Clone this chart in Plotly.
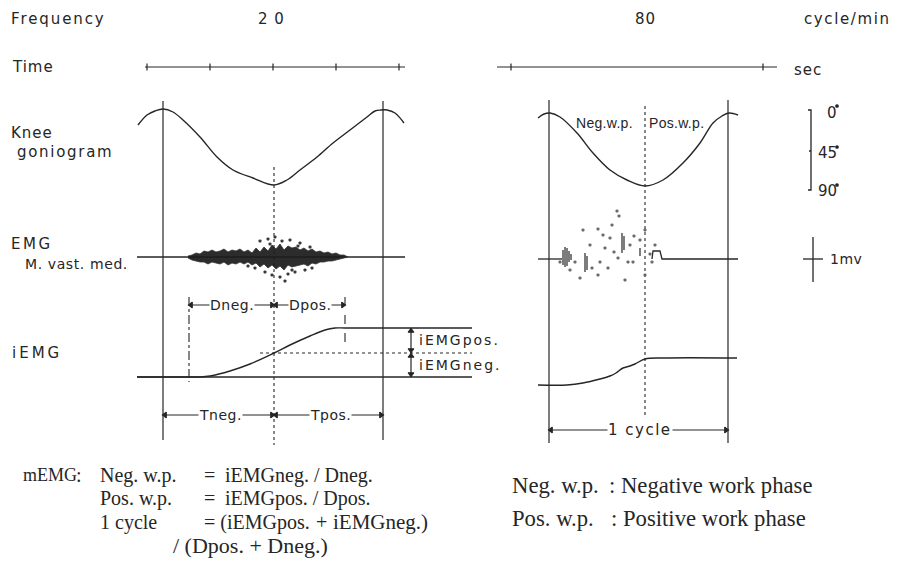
import plotly.graph_objects as go

# ---------------- data (diagram units = reference pixels) ----------------
FREQ_LABELS = ["2 0", "80"]
FREQ_X = [271, 645]

TIME20_RANGE = [145, 405]
TIME20_TICKS = [147, 210, 273, 336, 399]
TIME80_RANGE = [497, 777]
TIME80_TICKS = [511, 763]
TIME_Y = 67

CYCLE20 = [163, 383]
CYCLE80 = [549, 728]
MID20 = 274
MID80 = 645

GONIO20_X = [138, 147, 155, 163, 173, 183, 200, 217, 233, 253, 274, 287, 300, 317, 333, 350, 367, 375, 381, 387, 395, 404]
GONIO20_Y = [125, 115, 111, 109, 112, 120, 137, 157, 170, 178, 185, 180, 170, 157, 143, 130, 117, 111, 110, 110, 113, 123]
GONIO80_X = [538, 544, 550, 560, 577, 593, 610, 627, 645, 663, 683, 700, 713, 722, 729, 738]
GONIO80_Y = [118, 114, 113, 117, 133, 153, 170, 180, 186, 180, 163, 143, 123, 116, 113, 115]

EMG20_BASE = 257
EMG20_RANGE = [137, 405]
EMG20_X = [188, 192, 196, 200, 204, 208, 212, 216, 220, 224, 228, 232, 236, 240, 244, 248, 252, 256, 260, 264, 268,
           272, 276, 280, 284, 288, 292, 296, 300, 304, 308, 312, 316, 320, 324, 328, 332, 336, 340, 344, 348]
EMG20_UP = [1, 2, 4, 3, 6, 5, 7, 5, 6, 8, 5, 7, 6, 8, 5, 7, 4, 9, 5, 10, 6,
            12, 8, 13, 7, 11, 9, 10, 7, 9, 6, 8, 5, 6, 4, 5, 3, 4, 2, 2, 0]
EMG20_DOWN = [1, 3, 4, 5, 5, 7, 5, 6, 7, 5, 8, 6, 7, 5, 7, 5, 8, 6, 10, 7, 11,
              8, 12, 9, 13, 8, 10, 9, 8, 7, 9, 6, 7, 5, 5, 4, 4, 3, 2, 1, 0]
EMG20_DOTS_X = [260, 268, 275, 282, 290, 300, 265, 272, 280, 288, 295, 305, 312, 255, 248, 285, 292, 270, 298, 310]
EMG20_DOTS_Y = [241, 239, 237, 241, 240, 243, 272, 275, 277, 274, 272, 270, 268, 268, 266, 281, 270, 244, 246, 247]

EMG80_BASE = 259
EMG80_SPIKES_X = [563, 565, 567, 569, 571, 585, 587, 622, 624, 640]
EMG80_SPIKES_TOP = [250, 247, 248, 251, 254, 253, 256, 233, 236, 248]
EMG80_SPIKES_BOT = [265, 267, 266, 262, 260, 272, 270, 253, 250, 256]
EMG80_DOTS_X = [583, 598, 617, 619, 610, 634, 640, 600, 605, 614, 628, 633, 650, 652, 645, 625, 598, 580, 570, 590, 603, 645, 612, 655, 575, 592, 630, 608, 618, 560]
EMG80_DOTS_Y = [230, 229, 211, 216, 238, 236, 240, 262, 248, 252, 262, 262, 254, 262, 275, 280, 275, 278, 270, 245, 235, 230, 225, 245, 262, 268, 245, 268, 258, 262]

IEMG20_X = [137, 189, 200, 210, 230, 250, 274, 290, 310, 325, 335, 345, 472]
IEMG20_Y = [377, 377, 377, 376, 371, 364, 353, 345, 336, 330, 328, 328, 328]
IEMG20_BASE_END = 472
IEMG80_X = [538, 567, 583, 600, 610, 616, 623, 630, 635, 645, 663, 737]
IEMG80_Y = [385, 385, 383, 379, 376, 373, 368, 366, 364, 359, 358, 358]

D_X = [189, 274, 345]
D_Y = 305
T_Y = 415
CYCLE_ARROW_Y = 430
IEMG_SPLIT_Y = 353

ANGLE_LABELS = ["0", "45", "90"]
ANGLE_Y = [110, 150, 190]
ANGLE_BAR_X = 811
MV_BAR = [813, 237, 282, 259]

INK = "#262626"
SANS = "DejaVu Sans"
SERIF = "Liberation Serif"

fig = go.Figure()


def seg(xs, ys, dash="solid", width=1.3, color=INK, shape="linear"):
    fig.add_trace(go.Scatter(x=xs, y=ys, mode="lines",
                             line=dict(color=color, width=width, dash=dash, shape=shape),
                             hoverinfo="skip", showlegend=False))


def marks(xs, ys, symbol, size=6, color=INK):
    fig.add_trace(go.Scatter(x=xs, y=ys, mode="markers",
                             marker=dict(symbol=symbol, size=size, color=color,
                                         line=dict(color=color, width=1.2)),
                             hoverinfo="skip", showlegend=False))


def txt(x, y, s, size=15, font=SANS, anchor="left", spacing=None, bg=None):
    if spacing:
        s = f'<span style="letter-spacing:{spacing}px">{s}</span>'
    fig.add_annotation(x=x, y=y, xref="x", yref="y", text=s, showarrow=False,
                       xanchor=anchor, yanchor="middle",
                       font=dict(family=font, size=size, color=INK),
                       bgcolor=bg, borderpad=0)


# ---------------- time axes ----------------
seg(TIME20_RANGE, [TIME_Y, TIME_Y], width=1.1)
marks(TIME20_TICKS, [TIME_Y] * len(TIME20_TICKS), "line-ns", size=5)
seg(TIME80_RANGE, [TIME_Y, TIME_Y], width=1.1)
marks(TIME80_TICKS, [TIME_Y] * len(TIME80_TICKS), "line-ns", size=5)

# ---------------- cycle boundaries ----------------
for cx in CYCLE20:
    seg([cx, cx], [101, 440], width=1.2)
for cx in CYCLE80:
    seg([cx, cx], [100, 443], width=1.2)
seg([MID20, MID20], [167, 445], dash="dot", width=1.1)
seg([MID80, MID80], [106, 417], dash="dot", width=1.1)

# ---------------- goniograms ----------------
seg(GONIO20_X, GONIO20_Y, width=1.4, shape="spline")
seg(GONIO80_X, GONIO80_Y, width=1.4, shape="spline")

# ---------------- EMG ----------------
seg(EMG20_RANGE, [EMG20_BASE, EMG20_BASE], width=1.3)
up = [EMG20_BASE - a for a in EMG20_UP]
lo = [EMG20_BASE + a for a in EMG20_DOWN]
fig.add_trace(go.Scatter(x=EMG20_X + EMG20_X[::-1], y=up + lo[::-1], fill="toself",
                         fillcolor="rgba(28,28,28,0.93)", line=dict(width=0.8, color="#333"),
                         mode="lines", hoverinfo="skip", showlegend=False))
marks(EMG20_DOTS_X, EMG20_DOTS_Y, "circle", size=2, color="#333")

seg([538, 562], [EMG80_BASE, EMG80_BASE], width=1.3)
seg([652, 653, 660, 662, 738], [EMG80_BASE, 251, 251, EMG80_BASE, EMG80_BASE], width=1.3)
for sx, st, sb in zip(EMG80_SPIKES_X, EMG80_SPIKES_TOP, EMG80_SPIKES_BOT):
    seg([sx, sx], [st, sb], width=1.2)
marks(EMG80_DOTS_X, EMG80_DOTS_Y, "circle", size=2, color="#666")

# ---------------- iEMG ----------------
seg([IEMG20_X[0], IEMG20_BASE_END], [IEMG20_Y[0], IEMG20_Y[0]], width=1.3)
seg(IEMG20_X, IEMG20_Y, width=1.4, shape="spline")
seg([260, IEMG20_BASE_END], [IEMG_SPLIT_Y, IEMG_SPLIT_Y], dash="dot", width=1.0)
seg(IEMG80_X, IEMG80_Y, width=1.4, shape="spline")

# D markers
seg([D_X[0], D_X[0]], [297, 382], dash="dashdot", width=1.1)
seg([D_X[2], D_X[2]], [297, 350], dash="dash", width=1.1)
seg([D_X[0], D_X[2]], [D_Y, D_Y], width=1.1)
marks([D_X[0] + 2, D_X[1] + 2], [D_Y, D_Y], "triangle-left", size=5)
marks([D_X[1] - 2, D_X[2] - 2], [D_Y, D_Y], "triangle-right", size=5)
txt((D_X[0] + D_X[1]) / 2, D_Y, "Dneg.", size=14, anchor="center", spacing=0.5, bg="white")
txt((D_X[1] + D_X[2]) / 2, D_Y, "Dpos.", size=14, anchor="center", spacing=0.5, bg="white")

# iEMG vertical dimension
seg([411, 411], [328, 377], width=1.2)
marks([411, 411], [331, 356], "triangle-up", size=5)
marks([411, 411], [350, 374], "triangle-down", size=5)
txt(418, 340, "iEMGpos.", size=14, spacing=2)
txt(418, 365, "iEMGneg.", size=14, spacing=2)

# T markers
seg([CYCLE20[0], CYCLE20[1]], [T_Y, T_Y], width=1.1)
marks([CYCLE20[0] + 2, MID20 + 2], [T_Y, T_Y], "triangle-left", size=5)
marks([MID20 - 2, CYCLE20[1] - 2], [T_Y, T_Y], "triangle-right", size=5)
txt((CYCLE20[0] + MID20) / 2 + 2, T_Y, "Tneg.", size=14, anchor="center", spacing=0.5, bg="white")
txt((MID20 + CYCLE20[1]) / 2 + 2, T_Y, "Tpos.", size=14, anchor="center", spacing=0.5, bg="white")

# 1 cycle
seg(CYCLE80, [CYCLE_ARROW_Y, CYCLE_ARROW_Y], width=1.1)
marks([CYCLE80[0] + 2], [CYCLE_ARROW_Y], "triangle-left", size=5)
marks([CYCLE80[1] - 2], [CYCLE_ARROW_Y], "triangle-right", size=5)
txt((CYCLE80[0] + CYCLE80[1]) / 2 + 1, CYCLE_ARROW_Y, "1 cycle", size=15, anchor="center", spacing=1.5, bg="white")

# ---------------- scale bars ----------------
seg([ANGLE_BAR_X - 3, ANGLE_BAR_X, ANGLE_BAR_X, ANGLE_BAR_X - 3],
    [ANGLE_Y[0], ANGLE_Y[0], ANGLE_Y[2], ANGLE_Y[2]], width=1.3)
seg([ANGLE_BAR_X - 2, ANGLE_BAR_X], [ANGLE_Y[1] + 1, ANGLE_Y[1] + 1], width=1.3)
txt(826, ANGLE_Y[0] + 3, ANGLE_LABELS[0], size=15)
txt(817, ANGLE_Y[1] + 3, ANGLE_LABELS[1], size=15)
txt(817, ANGLE_Y[2] + 1, ANGLE_LABELS[2], size=15)
marks([837, 837, 837], [ANGLE_Y[0] - 4, ANGLE_Y[1] - 3, ANGLE_Y[2] - 5], "circle", size=2.5)

seg([MV_BAR[0], MV_BAR[0]], [MV_BAR[1], MV_BAR[2]], width=1.3)
seg([MV_BAR[0] - 10, MV_BAR[0] + 10], [MV_BAR[3], MV_BAR[3]], width=1.3)
txt(829, MV_BAR[3], "1mv", size=14, spacing=0.5)

# ---------------- labels ----------------
txt(10, 19, "Frequency", size=15, spacing=1.9)
txt(FREQ_X[0], 19, FREQ_LABELS[0], size=15, anchor="center", spacing=1)
txt(FREQ_X[1], 19, FREQ_LABELS[1], size=15, anchor="center", spacing=1)
txt(803, 19, "cycle/min", size=15, spacing=1.6)
txt(11, 67, "Time", size=15, spacing=1)
txt(793, 70, "sec", size=15, spacing=1)
txt(10, 133, "Knee", size=15, spacing=1)
txt(16, 152, "goniogram", size=15, spacing=1.7)
txt(10, 244, "EMG", size=15, spacing=2.5)
txt(24, 264, "M. vast. med.", size=14, spacing=0.6)
txt(11, 353, "iEMG", size=15, spacing=3)
txt(575, 123, "Neg.w.p.", size=14, font="Liberation Sans", spacing=0.3)
txt(648, 123, "Pos.w.p.", size=14, font="Liberation Sans", spacing=0.3)

# ---------------- bottom formulas ----------------
FS = 20
txt(22, 475, "mEMG", size=18, font=SERIF)
txt(75, 475, ":", size=FS, font=SERIF)
txt(99, 475, "Neg. w.p.", size=FS, font=SERIF)
txt(203, 475, "=", size=FS, font=SERIF)
txt(224, 475, "iEMGneg. / Dneg.", size=FS, font=SERIF)
txt(99, 498, "Pos. w.p.", size=FS, font=SERIF)
txt(203, 498, "=", size=FS, font=SERIF)
txt(224, 498, "iEMGpos. / Dpos.", size=FS, font=SERIF)
txt(99, 522, "1 cycle", size=FS, font=SERIF)
txt(203, 522, "= (iEMGpos.", size=FS, font=SERIF)
txt(315, 522, "+", size=FS, font=SERIF)
txt(332, 522, "iEMGneg.)", size=21, font=SERIF)
txt(172, 545, "/ (Dpos. + Dneg.)", size=22, font=SERIF)
FS2 = 22.7
txt(511, 485, "Neg. w.p.", size=FS2, font=SERIF)
txt(608, 485, ": Negative work phase", size=FS2, font=SERIF)
txt(511, 518, "Pos. w.p.", size=FS2, font=SERIF)
txt(610, 518, ": Positive work phase", size=FS2, font=SERIF)

fig.update_layout(
    width=898, height=588,
    margin=dict(l=0, r=0, t=0, b=0),
    paper_bgcolor="white", plot_bgcolor="white",
    xaxis=dict(range=[0, 898], visible=False, fixedrange=True),
    yaxis=dict(range=[588, 0], visible=False, fixedrange=True),
    showlegend=False,
)
fig.write_html("out.html", config={"displayModeBar": False},
               post_script="document.body.style.margin='0';document.body.style.overflow='hidden';")
